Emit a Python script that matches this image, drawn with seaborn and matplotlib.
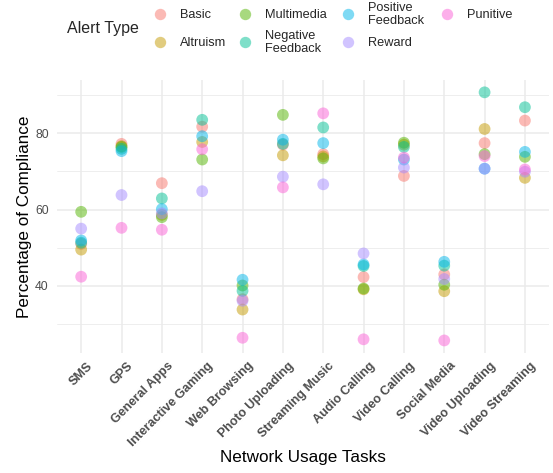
import numpy as np
import matplotlib
matplotlib.use("Agg")
import matplotlib.pyplot as plt
import matplotlib.transforms as mtransforms
import seaborn as sns
import pandas as pd
from matplotlib.ticker import MultipleLocator

# задачи и значения по типам оповещений
tasks = ["SMS", "GPS", "General Apps", "Interactive Gaming", "Web Browsing",
         "Photo Uploading", "Streaming Music", "Audio Calling", "Video Calling",
         "Social Media", "Video Uploading", "Video Streaming"]

alert_types = ["Basic", "Altruism", "Multimedia", "Negative Feedback",
               "Positive Feedback", "Reward", "Punitive"]

basic = [51.0, 77.2, 66.9, 81.7, 36.5, 77.0, 74.5, 42.3, 68.8, 43.0, 77.4, 83.3]
altruism = [49.5, 76.6, 58.6, 77.7, 33.8, 74.2, 73.9, 39.1, 77.0, 38.6, 81.1, 68.3]
multimedia = [59.4, 76.4, 58.0, 73.1, 40.1, 84.8, 73.4, 39.3, 77.5, 40.3, 74.5, 73.8]
negative_fb = [51.3, 75.9, 62.9, 83.5, 38.7, 77.2, 81.5, 45.2, 76.4, 45.3, 90.7, 86.8]
positive_fb = [51.9, 75.3, 60.1, 79.2, 41.6, 78.3, 77.4, 45.6, 73.1, 46.3, 70.7, 75.1]
reward = [55.0, 63.8, 59.0, 64.8, 36.1, 68.6, 66.6, 48.5, 71.0, 41.8, 70.7, 69.9]
punitive = [42.4, 55.2, 54.7, 75.8, 26.4, 65.8, 85.2, 26.0, 73.6, 25.7, 74.0, 70.5]

colors = ["#F8766D", "#C49A00", "#53B400", "#00C094", "#00B6EB", "#A58AFF", "#FB61D7"]

series = [basic, altruism, multimedia, negative_fb, positive_fb, reward, punitive]
df = pd.concat([pd.DataFrame({"task": tasks, "value": v, "alert": a})
                for a, v in zip(alert_types, series)], ignore_index=True)

sns.set_style("white")
plt.rcParams["font.family"] = ["Liberation Sans", "DejaVu Sans"]

fig = plt.figure(figsize=(5.53, 4.73), dpi=100)
ax = fig.add_axes([0.103, 0.254, 0.890, 0.577])

sns.scatterplot(data=df, x="task", y="value", hue="alert", hue_order=alert_types,
                palette=colors, s=72, alpha=0.5, edgecolor="none", ax=ax,
                legend=False, zorder=3)

ax.set_xlim(-0.6, len(tasks) - 0.4)
ax.set_ylim(22.45, 93.95)
ax.yaxis.set_major_locator(MultipleLocator(20))
ax.yaxis.set_minor_locator(MultipleLocator(10))
ax.grid(True, which="major", color="#EBEBEB", linewidth=1.1, zorder=0)
ax.grid(True, which="minor", axis="y", color="#EBEBEB", linewidth=0.6, zorder=0)
ax.set_axisbelow(True)
for sp in ax.spines.values():
    sp.set_visible(False)
ax.tick_params(axis="both", which="both", length=0, colors="#4D4D4D", labelsize=8.8)
ax.tick_params(axis="y", pad=6)
ax.set_xticks(range(len(tasks)))
ax.set_xticklabels(tasks, rotation=45, ha="right", va="top", rotation_mode="anchor",
                   fontweight="bold", fontsize=9.1, color="#4D4D4D")
ax.tick_params(axis="x", pad=5)
shift = mtransforms.ScaledTranslation(5 / 100, 0, fig.dpi_scale_trans)
for lbl in ax.get_xticklabels():
    lbl.set_transform(lbl.get_transform() + shift)

ax.set_xlabel("Network Usage Tasks", fontsize=12.3, color="black", labelpad=1)
ax.set_ylabel("Percentage of Compliance", fontsize=12.3, color="black", labelpad=2)

# легенда сверху, собрана вручную чтобы строки совпадали по колонкам
labels = ["Basic", "Altruism", "Multimedia", "Negative\nFeedback",
          "Positive\nFeedback", "Reward", "Punitive"]
col_x = [160, 245, 348, 447]
row_y = [14, 42]
W, H = 553.0, 473.0
for i, (lab, c) in enumerate(zip(labels, colors)):
    cx = col_x[i // 2]
    cy = row_y[i % 2]
    fig.add_artist(plt.Line2D([cx / W], [1 - cy / H], marker="o", linestyle="",
                              markersize=8.2, markerfacecolor=c,
                              markeredgecolor="none", alpha=0.5,
                              transform=fig.transFigure))
    fig.text((cx + 20) / W, 1 - (cy + 0.5) / H, lab, fontsize=9.2, va="center",
             ha="left", linespacing=1.1)
fig.text(67 / W, 1 - 28 / H, "Alert Type", fontsize=11.5, va="center", ha="left")

fig.savefig("out.png", dpi=100)
